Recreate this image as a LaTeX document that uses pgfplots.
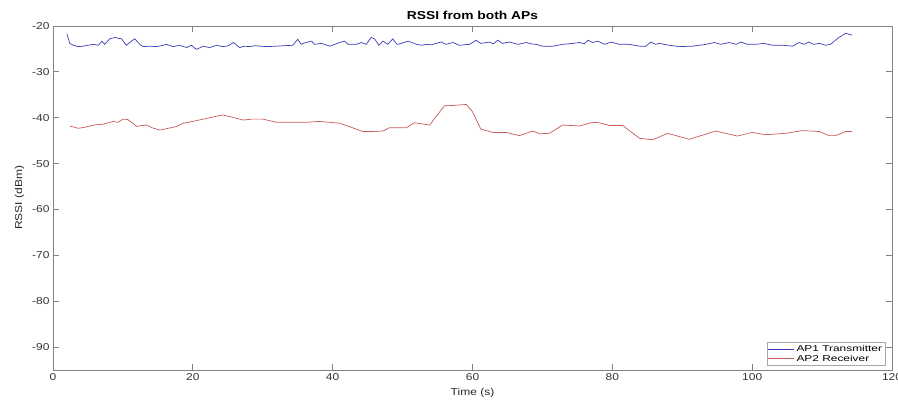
\documentclass[border=0pt]{standalone}
\usepackage{fontspec}
\setmainfont[FakeStretch=1.2]{Liberation Sans}
\newfontfamily\legfont[FakeStretch=1.4]{Liberation Sans}
\usepackage{pgfplots}
\pgfplotsset{compat=1.18}

\definecolor{apblue}{RGB}{60,60,185}
\definecolor{apred}{RGB}{200,90,90}
\definecolor{axgray}{RGB}{130,130,130}

\begin{document}
\begin{tikzpicture}
\begin{axis}[
  scale only axis,
  width=839pt, height=344pt,
  xmin=0, xmax=120,
  ymin=-95, ymax=-20,
  xtick={0,20,...,120},
  ytick={-90,-80,...,-20},
  tick align=inside,
  major tick length=6pt,
  axis line style={axgray, line width=0.8pt},
  every tick/.style={axgray, line width=0.8pt},
  tick label style={font=\fontsize{10}{12}\selectfont, text=black!80},
  /pgf/number format/assume math mode=true,
  title={\textbf{RSSI from both APs}},
  title style={font=\fontsize{11.5}{13}\selectfont, yshift=-3pt},
  xlabel={Time (s)},
  ylabel={RSSI (dBm)},
  label style={font=\fontsize{10}{12}\selectfont, text=black!85},
  xlabel style={yshift=-1pt},
  ylabel style={yshift=1pt},
  legend style={at={(rel axis cs:0.992,0.012)}, anchor=south east,
    draw=axgray!70, line width=0.5pt, font=\legfont\fontsize{8.5}{9.5}\selectfont,
    inner sep=1pt, row sep=-2pt, cells={anchor=west}},
  legend image code/.code={\draw[#1, line width=0.7pt] (0pt,0pt) -- (26pt,0pt);},
]
\coordinate (sw) at (rel axis cs:0,0);
\coordinate (ne) at (rel axis cs:1,1);

\addplot[color=apblue, line width=0.7pt, mark=none] coordinates {
(2.0,-21.8)(2.4,-23.8)(2.9,-24.2)(3.6,-24.5)(4.3,-24.4)(5.0,-24.2)(5.8,-24.0)(6.5,-24.2)
(7.0,-23.3)(7.4,-24.0)(8.1,-22.8)(8.9,-22.5)(9.4,-22.7)(9.8,-22.8)(10.5,-24.2)(11.2,-23.3)
(11.7,-22.8)(12.4,-24.0)(12.9,-24.5)(13.8,-24.4)(14.8,-24.5)(15.5,-24.3)(16.2,-24.0)(17.2,-24.5)
(18.1,-24.2)(19.1,-24.7)(19.8,-24.2)(20.5,-25.1)(21.5,-24.4)(22.4,-24.7)(23.4,-24.2)(24.3,-24.5)
(25.1,-24.3)(25.8,-23.6)(26.7,-24.7)(27.4,-24.4)(28.1,-24.5)(28.9,-24.3)(29.6,-24.4)(30.7,-24.5)
(31.9,-24.4)(33.1,-24.3)(34.3,-24.2)(35.0,-22.9)(35.5,-24.0)(36.2,-23.6)(37.0,-23.3)(37.4,-24.0)
(38.4,-23.8)(39.6,-24.4)(40.3,-24.0)(41.0,-23.6)(41.7,-23.3)(42.2,-24.0)(43.4,-24.0)(44.1,-23.6)
(44.8,-24.0)(45.5,-22.5)(46.0,-22.8)(46.6,-24.2)(47.2,-23.3)(47.9,-24.0)(48.6,-22.8)(49.2,-24.0)
(49.8,-23.8)(50.8,-23.3)(52.0,-24.0)(52.7,-24.2)(53.4,-24.0)(54.1,-24.1)(54.8,-23.8)(55.5,-23.5)
(56.2,-24.0)(57.2,-23.6)(58.1,-24.2)(59.6,-24.0)(60.5,-23.1)(61.2,-23.8)(62.4,-23.5)(63.0,-23.9)
(63.6,-23.1)(64.3,-23.8)(65.3,-23.5)(66.5,-24.0)(67.7,-23.6)(68.4,-23.9)(69.1,-24.0)(70.0,-24.4)
(71.5,-24.4)(72.9,-24.0)(74.3,-23.8)(75.3,-23.6)(76.0,-23.9)(76.5,-23.1)(77.2,-23.6)(77.9,-23.3)
(78.9,-24.0)(79.8,-23.5)(81.0,-24.0)(82.4,-24.0)(83.9,-24.4)(84.8,-24.4)(85.5,-23.5)(86.2,-24.0)
(86.7,-23.8)(88.1,-24.2)(89.6,-24.5)(91.5,-24.4)(93.4,-24.0)(94.6,-23.6)(95.5,-24.0)(96.7,-23.6)
(97.7,-24.0)(98.4,-23.5)(99.3,-24.0)(100.5,-24.0)(101.7,-23.8)(102.9,-24.2)(104.3,-24.2)(105.8,-24.4)
(106.7,-23.6)(107.4,-24.0)(108.1,-23.5)(108.8,-24.0)(109.6,-23.8)(110.5,-24.2)(111.2,-24.0)(112.4,-22.5)
(113.4,-21.6)(114.3,-22.0)
};
\addlegendentry{AP1 Transmitter}

\addplot[color=apred, line width=0.7pt, mark=none] coordinates {
(2.4,-41.8)(3.6,-42.3)(4.5,-42.1)(5.8,-41.6)(7.2,-41.4)(8.6,-40.8)(9.3,-41.0)(10.0,-40.3)
(10.7,-40.4)(12.0,-41.9)(12.7,-41.7)(13.4,-41.6)(14.2,-42.2)(15.3,-42.7)(16.5,-42.3)(17.7,-41.9)
(18.6,-41.2)(20.0,-40.8)(21.5,-40.3)(23.0,-39.8)(24.3,-39.4)(25.7,-39.9)(27.2,-40.5)(28.5,-40.3)
(30.0,-40.3)(32.0,-41.0)(34.0,-41.0)(36.2,-41.0)(38.1,-40.8)(39.6,-41.0)(41.0,-41.2)(42.5,-42.0)
(44.3,-43.0)(45.8,-43.0)(47.2,-42.9)(48.1,-42.2)(50.5,-42.2)(51.7,-41.1)(53.9,-41.6)(54.6,-40.1)
(56.0,-37.4)(57.5,-37.3)(59.1,-37.1)(60.0,-38.7)(61.2,-42.5)(62.9,-43.2)(64.8,-43.2)(66.7,-43.9)
(68.6,-42.9)(69.6,-43.5)(71.0,-43.4)(72.9,-41.6)(75.3,-41.8)(77.2,-41.0)(78.1,-41.1)(79.6,-41.7)
(81.5,-41.7)(83.9,-44.5)(85.8,-44.8)(87.9,-43.4)(91.0,-44.7)(94.8,-42.9)(97.9,-44.0)(100.0,-43.2)
(101.9,-43.7)(104.8,-43.4)(107.2,-42.8)(109.6,-43.0)(111.0,-43.9)(111.9,-43.9)(113.4,-43.0)(114.3,-43.0)
};
\addlegendentry{AP2 Receiver}
\end{axis}
\pgfresetboundingbox
\path ([xshift=-53pt,yshift=-30pt]sw) rectangle ([xshift=6pt,yshift=26pt]ne);
\end{tikzpicture}
\end{document}
